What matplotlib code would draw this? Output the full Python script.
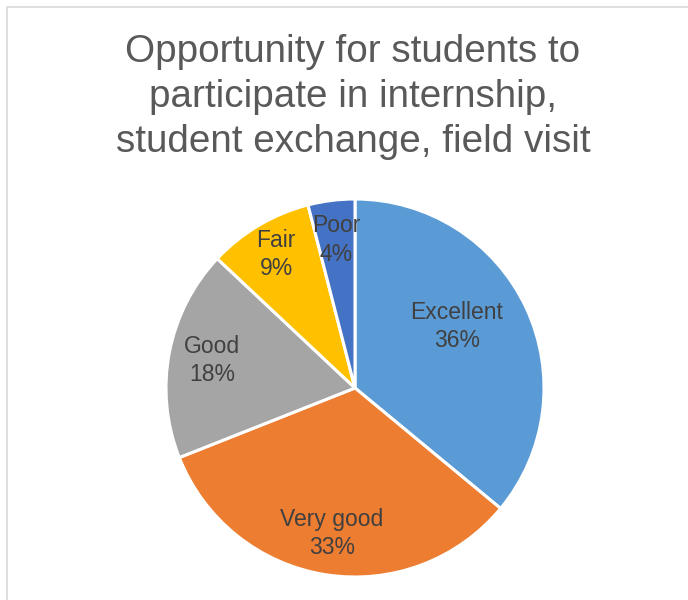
import matplotlib.pyplot as plt
from matplotlib.patches import Rectangle
import numpy as np

# Data
categories = ['Excellent', 'Very good', 'Good', 'Fair', 'Poor']
shares = [36, 33, 18, 9, 4]
colors = ['#5B9BD5', '#ED7D31', '#A5A5A5', '#FFC000', '#4472C4']
title = 'Opportunity for students to\nparticipate in internship,\nstudent exchange, field visit'

plt.rcParams['font.family'] = ['Liberation Sans', 'DejaVu Sans']

fig = plt.figure(figsize=(6.88, 6.0), dpi=100)

# light chart-area border (top and left visible in the reference)
fig.patches.append(Rectangle((7 / 688, -0.05), 1.1, 1.05 - 7 / 600,
                             transform=fig.transFigure, fill=False,
                             edgecolor='#d9d9d9', linewidth=1.2))

# pie axes: centre ~ (355, 388) px, radius ~ 189 px
cx, cy, r = 355 / 688, 1 - 388 / 600, 189
ax = fig.add_axes([cx - r / 688, cy - r / 600, 2 * r / 688, 2 * r / 600])
wedges, _ = ax.pie(shares, colors=colors, startangle=90, counterclock=False,
                   wedgeprops=dict(edgecolor='white', linewidth=2.2))
ax.set_xlim(-1, 1)
ax.set_ylim(-1, 1)
ax.set_aspect('auto')

# data labels inside the slices (Excel "best fit" placement)
label_radius = [0.63, 0.78, 0.77, 0.82, 0.79]
label_turn = [6, 0, 0, 0, 0]
for w, cat, val, lr, dt in zip(wedges, categories, shares, label_radius, label_turn):
    ang = np.deg2rad((w.theta1 + w.theta2) / 2 + dt)
    ax.text(lr * np.cos(ang), lr * np.sin(ang), f'{cat}\n{val}%',
            ha='center', va='center', fontsize=16.5, color='#404040',
            linespacing=1.3)

fig.text(353 / 688, 1 - 97 / 600, title, ha='center', va='center',
         fontsize=27.8, color='#595959', linespacing=1.32)

fig.savefig('out.png', dpi=100)
